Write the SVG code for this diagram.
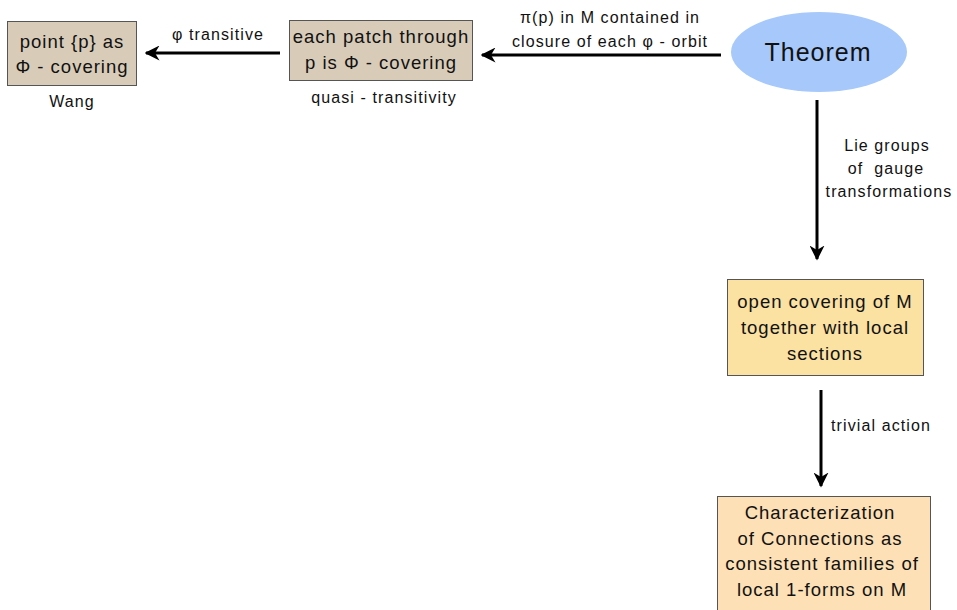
<svg xmlns="http://www.w3.org/2000/svg" width="957" height="610" viewBox="0 0 957 610">
  <style>
    text { font-family: "Liberation Sans", Arial, sans-serif; fill: #111; text-anchor: middle; }
    .node { font-size: 18.5px; letter-spacing: 1px; }
    .lbl { font-size: 16px; letter-spacing: 1.1px; }
    .box { stroke: #555; stroke-width: 1; }
    .edge { stroke: #000; stroke-width: 3; fill: none; }
  </style>
  <defs>
    <marker id="arrow" viewBox="0 0 10 10" refX="9" refY="5" markerWidth="5" markerHeight="5" markerUnits="strokeWidth" orient="auto">
      <path d="M0,0 L10,5 L0,10 L3,5 Z" fill="#000"/>
    </marker>
  </defs>

  <g id="connectors">
    <line class="edge" x1="280" y1="53" x2="146" y2="53" marker-end="url(#arrow)"/>
    <text class="lbl" x="218" y="40">φ transitive</text>
    <line class="edge" x1="721" y1="55" x2="482" y2="55" marker-end="url(#arrow)"/>
    <text class="lbl" x="610" y="23">π(p) in M contained in</text>
    <text class="lbl" x="610" y="47">closure of each φ - orbit</text>
    <line class="edge" x1="817" y1="100" x2="817" y2="259" marker-end="url(#arrow)"/>
    <text class="lbl" x="887" y="151">Lie groups</text>
    <text class="lbl" x="886" y="174" xml:space="preserve">of  gauge</text>
    <text class="lbl" x="889" y="197">transformations</text>
    <line class="edge" x1="821" y1="390" x2="821" y2="486" marker-end="url(#arrow)"/>
    <text class="lbl" x="881" y="431">trivial action</text>
  </g>

  <g id="point-p">
    <rect class="box" x="7.5" y="21.5" width="129" height="64" fill="#d8ccb9"/>
    <text class="node" x="72" y="48">point {p} as</text>
    <text class="node" x="72" y="73">Φ - covering</text>
    <text class="lbl" x="72" y="107">Wang</text>
  </g>

  <g id="each-patch">
    <rect class="box" x="289.5" y="20.5" width="183" height="60" fill="#d8ccb9"/>
    <text class="node" x="381" y="43">each patch through</text>
    <text class="node" x="381" y="69">p is Φ - covering</text>
    <text class="lbl" x="384" y="103">quasi - transitivity</text>
  </g>

  <g id="theorem">
    <ellipse cx="819" cy="52" rx="88" ry="40" fill="#a6c8fb"/>
    <text x="818" y="61" font-size="25" letter-spacing="1">Theorem</text>
  </g>

  <g id="open-covering">
    <rect class="box" x="727.5" y="279.5" width="196" height="96" fill="#fbe1a2"/>
    <text class="node" x="825" y="308">open covering of M</text>
    <text class="node" x="825" y="334">together with local</text>
    <text class="node" x="825" y="360">sections</text>
  </g>

  <g id="characterization">
    <rect class="box" x="717.5" y="496.5" width="213" height="120" fill="#fde0b5"/>
    <text class="node" x="820" y="519">Characterization</text>
    <text class="node" x="820" y="545">of Connections as</text>
    <text class="node" x="822" y="570">consistent families of</text>
    <text class="node" x="822" y="596">local 1-forms on M</text>
  </g>
</svg>
